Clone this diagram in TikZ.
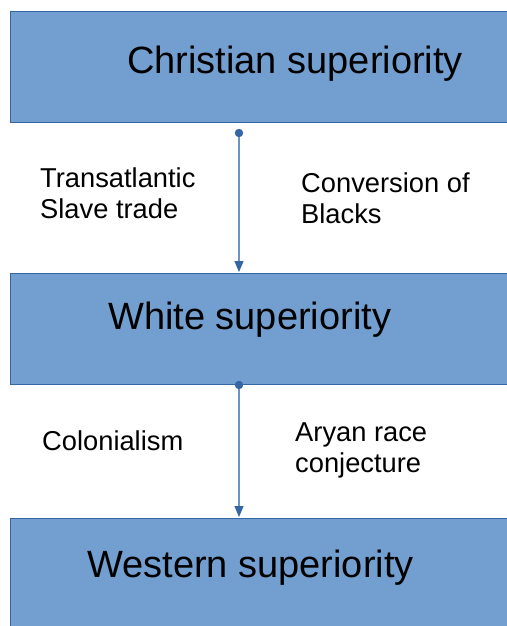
\documentclass[tikz,border=0pt]{standalone}
\usepackage{fontspec}
\setmainfont{Liberation Sans}
\usetikzlibrary{arrows.meta}
\definecolor{boxfill}{HTML}{729FCF}
\definecolor{boxline}{HTML}{3465A4}
\definecolor{connline}{HTML}{6F93C0}
\tikzset{
  bigbox/.style={draw=boxline, fill=boxfill, line width=0.8pt},
  title/.style={anchor=base west, inner sep=0pt, font=\fontsize{38}{45}\selectfont},
  label/.style={anchor=base west, inner sep=0pt, align=left, font=\fontsize{27.3}{31}\selectfont},
  conn/.style={draw=connline, line width=1.2pt, -{Triangle[length=11pt,width=9pt,color=boxline]}},
  startdot/.style={fill=boxline}
}
\begin{document}
\begin{tikzpicture}[x=1pt,y=-1pt]
\useasboundingbox (0,0) rectangle (506,626);
\fill[white] (0,0) rectangle (506,626);
% boxes
\draw[bigbox] (10,11) rectangle (512,122);
\draw[bigbox] (10,273) rectangle (512,384);
\draw[bigbox] (10,518) rectangle (512,632);
\coordinate (b1s) at (239,133);
\coordinate (b2n) at (239,272);
\coordinate (b2s) at (239,385);
\coordinate (b3n) at (239,517);
% titles
\node[title] (t1) at (127,74) {Christian superiority};
\node[title] (t2) at (108,329) {White superiority};
\node[title] (t3) at (87,577) {Western superiority};
% labels (base = last line)
\node[label] (l1) at (40,218) {Transatlantic\\Slave trade};
\node[label] (l2) at (301,223) {Conversion of\\Blacks};
\node[label] (l3) at (42,450) {Colonialism};
\node[label] (l4) at (295,472) {Aryan race\\conjecture};
% connectors
\draw[conn] (b1s) -- (b2n);
\draw[conn] (b2s) -- (b3n);
\fill[startdot] (b1s) circle (4.2);
\fill[startdot] (b2s) circle (4.2);
\end{tikzpicture}
\end{document}
